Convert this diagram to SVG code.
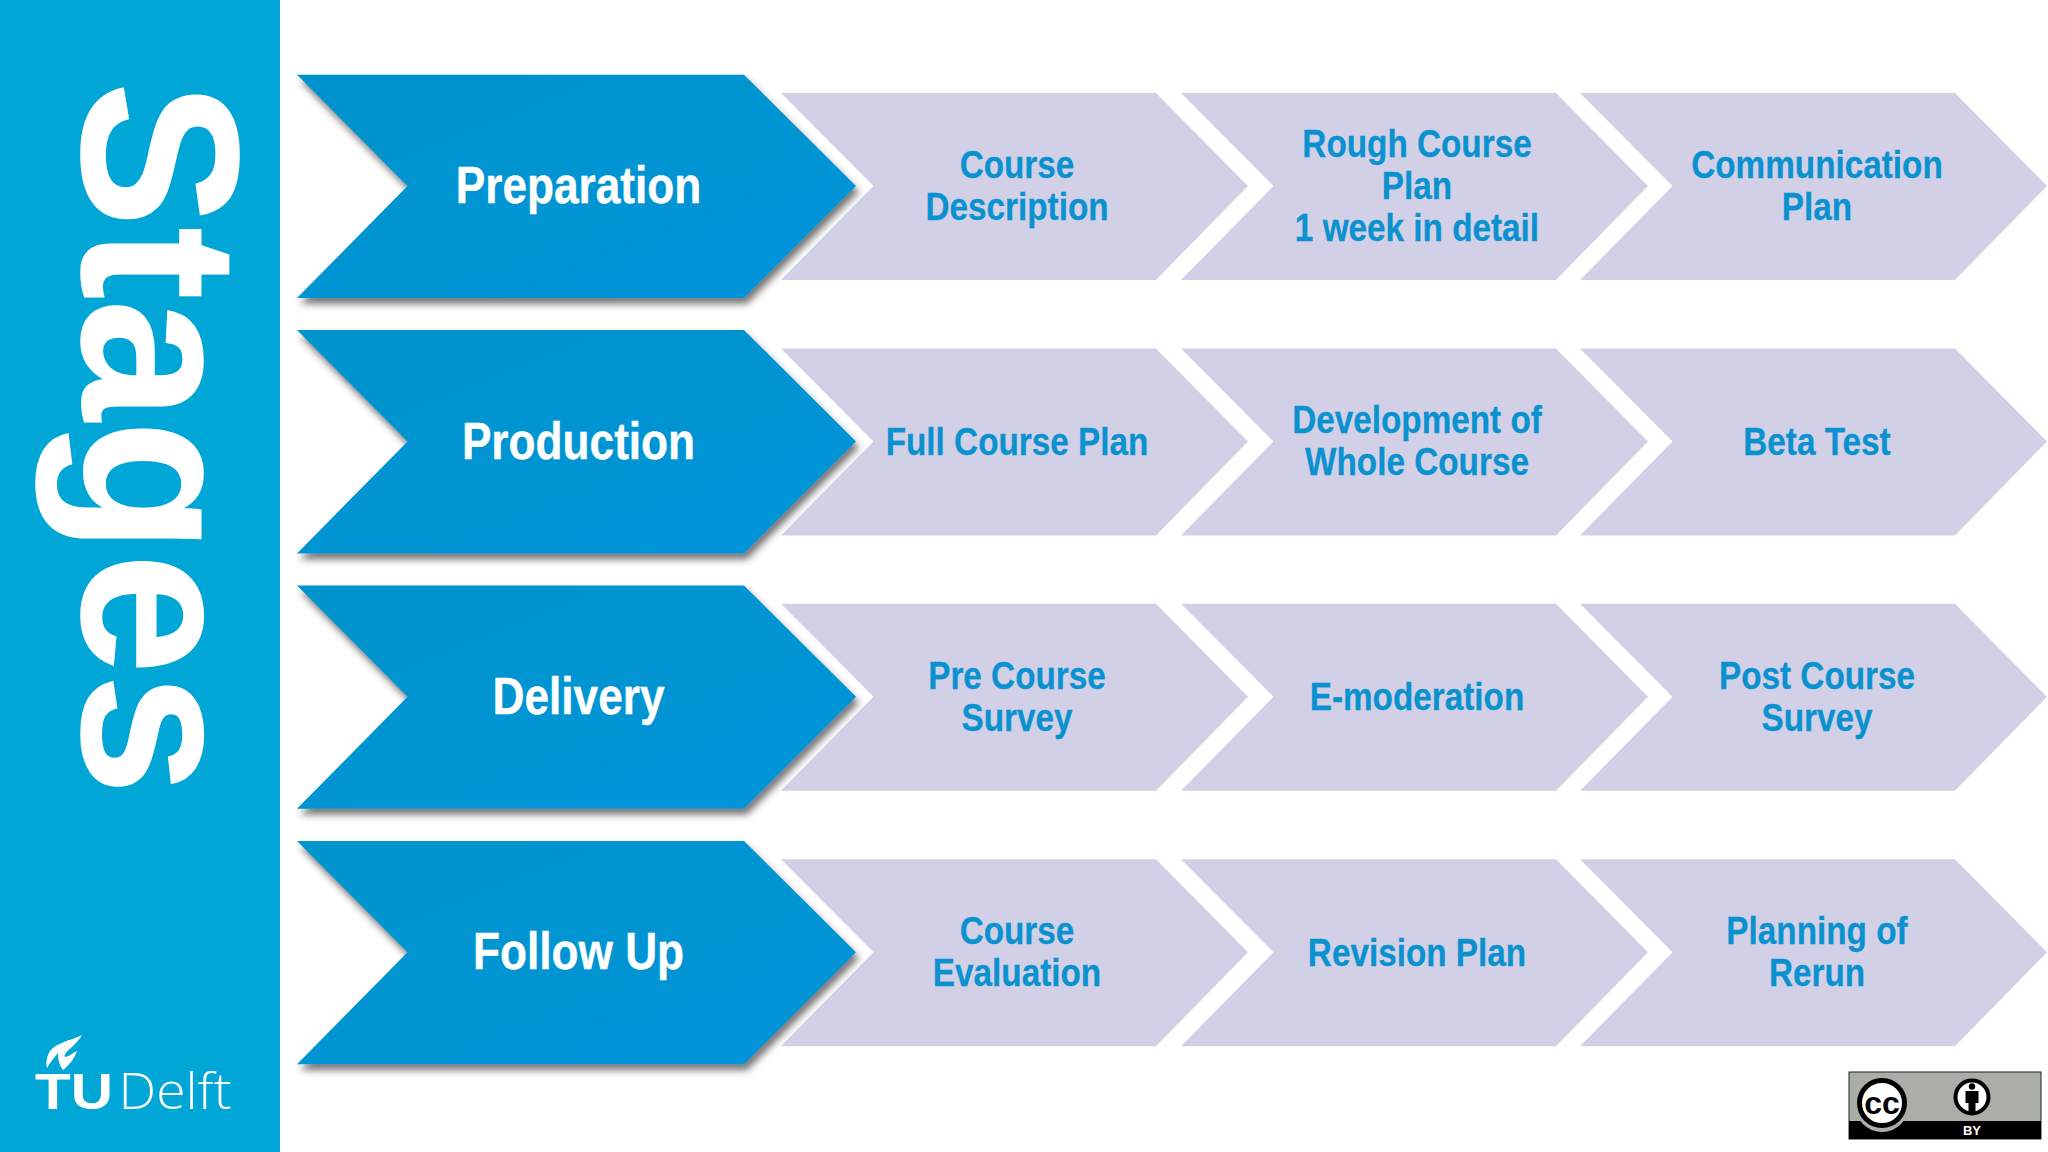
<svg xmlns="http://www.w3.org/2000/svg" width="2048" height="1152" viewBox="0 0 2048 1152">
<style>
text{font-family:"Liberation Sans",Arial,sans-serif;font-weight:700;text-anchor:middle}
.main{fill:#fff;font-size:52px;stroke:#fff;stroke-width:.4}
.sub{fill:#0a92d0;font-size:38.500px;stroke:#0a92d0;stroke-width:.3}
.grey{fill:#d2d0e6}
.blue{fill:url(#bg);filter:url(#sh)}
</style>
<defs>
<linearGradient id="bg" x1="0" y1="0" x2="1" y2="1"><stop offset="0" stop-color="#0594cd"/><stop offset=".6" stop-color="#0094d3"/><stop offset="1" stop-color="#0093dc"/></linearGradient>
<filter id="sh" x="-5%" y="-5%" width="112%" height="115%"><feDropShadow dx="3" dy="6" stdDeviation="3.500" flood-color="#333" flood-opacity=".65"/></filter>
<polygon id="g" points="781,93 1156,93 1248,186 1156,280 781,280 873.500,186"/>
<polygon id="b" points="297,74.700 744,74.700 856,186 744,298 297,298 407.500,186"/>
</defs>
<rect width="2048" height="1152" fill="#fff"/>
<g id="sidebar">
<rect width="280" height="1152" fill="#00a6d6"/>
<text transform="translate(83,438.500) rotate(90) scale(.975,1)" fill="#fff" stroke="#fff" stroke-width="1.500" font-size="223">Stages</text>
</g>
<g id="logo" fill="#fff">
<path d="M82 1035C67 1042 53 1043 48 1055C46 1060 46 1065 47 1068C50 1062 55 1057 58 1053C58 1058 59 1065 63 1070C70 1065 75 1057 77 1051C73 1053 68 1057 65 1057C63 1052 75 1047 82 1035Z"/>
<text x="74" y="1109" font-size="50" textLength="78" lengthAdjust="spacingAndGlyphs">TU</text>
<text x="175" y="1109" font-size="50" style="font-family:'Open Sans','Liberation Sans',sans-serif;font-weight:300" textLength="113" lengthAdjust="spacingAndGlyphs">Delft</text>
</g>
<g id="connectors"/>
<g id="r1c1"><use href="#g" class="grey"/><text class="sub" transform="translate(1017,177.500) scale(.865,1)">Course</text><text class="sub" transform="translate(1017,219.500) scale(.865,1)">Description</text></g>
<g id="r1c2"><use href="#g" class="grey" x="400"/><text class="sub" transform="translate(1417,156.500) scale(.865,1)">Rough Course</text><text class="sub" transform="translate(1417,198.500) scale(.865,1)">Plan</text><text class="sub" transform="translate(1417,240.500) scale(.865,1)">1 week in detail</text></g>
<g id="r1c3"><use href="#g" class="grey" x="799"/><text class="sub" transform="translate(1817,177.500) scale(.865,1)">Communication</text><text class="sub" transform="translate(1817,219.500) scale(.865,1)">Plan</text></g>
<g id="r1h"><use href="#b" class="blue"/><text class="main" transform="translate(578.500,203) scale(.85,1)">Preparation</text></g>

<g id="r2c1"><use href="#g" class="grey" y="255.400"/><text class="sub" transform="translate(1017,454.500) scale(.865,1)">Full Course Plan</text></g>
<g id="r2c2"><use href="#g" class="grey" x="400" y="255.400"/><text class="sub" transform="translate(1417,432.500) scale(.865,1)">Development of</text><text class="sub" transform="translate(1417,474.500) scale(.865,1)">Whole Course</text></g>
<g id="r2c3"><use href="#g" class="grey" x="799" y="255.400"/><text class="sub" transform="translate(1817,454.500) scale(.865,1)">Beta Test</text></g>
<g id="r2h"><use href="#b" class="blue" y="255.400"/><text class="main" transform="translate(578.500,458.500) scale(.85,1)">Production</text></g>

<g id="r3c1"><use href="#g" class="grey" y="510.800"/><text class="sub" transform="translate(1017,688.500) scale(.865,1)">Pre Course</text><text class="sub" transform="translate(1017,730.500) scale(.865,1)">Survey</text></g>
<g id="r3c2"><use href="#g" class="grey" x="400" y="510.800"/><text class="sub" transform="translate(1417,709.500) scale(.865,1)">E-moderation</text></g>
<g id="r3c3"><use href="#g" class="grey" x="799" y="510.800"/><text class="sub" transform="translate(1817,688.500) scale(.865,1)">Post Course</text><text class="sub" transform="translate(1817,730.500) scale(.865,1)">Survey</text></g>
<g id="r3h"><use href="#b" class="blue" y="510.800"/><text class="main" transform="translate(578.500,713.500) scale(.85,1)">Delivery</text></g>

<g id="r4c1"><use href="#g" class="grey" y="766.200"/><text class="sub" transform="translate(1017,943.500) scale(.865,1)">Course</text><text class="sub" transform="translate(1017,985.500) scale(.865,1)">Evaluation</text></g>
<g id="r4c2"><use href="#g" class="grey" x="400" y="766.200"/><text class="sub" transform="translate(1417,965.500) scale(.865,1)">Revision Plan</text></g>
<g id="r4c3"><use href="#g" class="grey" x="799" y="766.200"/><text class="sub" transform="translate(1817,943.500) scale(.865,1)">Planning of</text><text class="sub" transform="translate(1817,985.500) scale(.865,1)">Rerun</text></g>
<g id="r4h"><use href="#b" class="blue" y="766.200"/><text class="main" transform="translate(578.500,968.500) scale(.85,1)">Follow Up</text></g>

<g id="cc-badge">
<rect x="1849" y="1072" width="192" height="67" fill="#a9afa7" stroke="#222" stroke-width="1"/>
<rect x="1849" y="1121" width="192" height="18" fill="#000"/>
<circle cx="1882" cy="1105" r="27" fill="#a9afa7"/>
<circle cx="1882" cy="1103" r="22.500" fill="#fff" stroke="#000" stroke-width="5"/>
<text x="1882" y="1114" font-size="32" fill="#000">cc</text>
<circle cx="1972" cy="1097" r="16.500" fill="#fff" stroke="#000" stroke-width="4"/>
<circle cx="1972" cy="1086.500" r="3.200" fill="#000"/>
<path d="M1965.500 1091h13v12h-3v12h-7v-12h-3z" fill="#000"/>
<text x="1972" y="1135" font-size="13" fill="#fff">BY</text>
</g>
</svg>
